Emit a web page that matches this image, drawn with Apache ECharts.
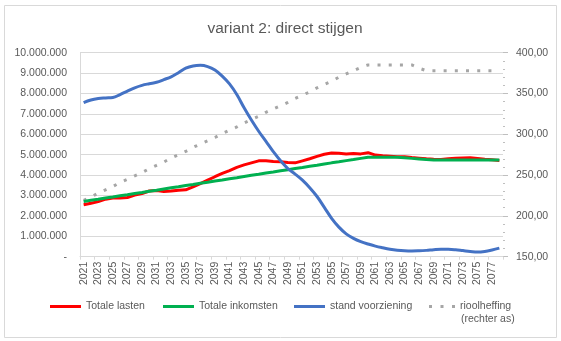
<!DOCTYPE html>
<html><head><meta charset="utf-8">
<script src="https://cdn.jsdelivr.net/npm/echarts@6/dist/echarts.min.js"></script>
<style>html,body{margin:0;padding:0;background:#fff}#c{width:561px;height:341px}</style>
</head><body><div id="c"></div>
<script>
const years = ['2021','2022','2023','2024','2025','2026','2027','2028','2029','2030','2031','2032','2033','2034','2035','2036','2037','2038','2039','2040','2041','2042','2043','2044','2045','2046','2047','2048','2049','2050','2051','2052','2053','2054','2055','2056','2057','2058','2059','2060','2061','2062','2063','2064','2065','2066','2067','2068','2069','2070','2071','2072','2073','2074','2075','2076','2077','2078'];
// values in millions (left axis)
const totaleLasten = [2.55,2.62,2.70,2.82,2.88,2.88,2.90,3.02,3.10,3.22,3.24,3.20,3.22,3.26,3.28,3.42,3.58,3.75,3.92,4.08,4.22,4.38,4.50,4.60,4.70,4.70,4.67,4.65,4.62,4.60,4.70,4.80,4.92,5.02,5.08,5.07,5.03,5.06,5.04,5.10,4.98,4.95,4.93,4.90,4.90,4.86,4.83,4.80,4.78,4.77,4.80,4.82,4.84,4.85,4.82,4.78,4.75,4.72];
const totaleInkomsten = [2.71,2.77,2.82,2.88,2.93,2.99,3.04,3.10,3.15,3.21,3.26,3.32,3.38,3.43,3.49,3.54,3.60,3.65,3.71,3.76,3.82,3.87,3.93,3.99,4.04,4.10,4.15,4.21,4.26,4.32,4.37,4.43,4.48,4.54,4.60,4.65,4.71,4.76,4.82,4.87,4.87,4.87,4.87,4.87,4.85,4.82,4.79,4.76,4.74,4.74,4.74,4.74,4.74,4.74,4.74,4.74,4.74,4.74];
const standVoorziening = [7.55,7.68,7.75,7.78,7.80,7.95,8.12,8.28,8.40,8.48,8.55,8.68,8.82,9.02,9.24,9.35,9.38,9.32,9.15,8.85,8.47,7.95,7.30,6.70,6.15,5.65,5.15,4.70,4.32,4.05,3.75,3.38,2.95,2.42,1.88,1.45,1.12,0.90,0.74,0.62,0.52,0.44,0.37,0.32,0.29,0.28,0.29,0.31,0.34,0.36,0.36,0.34,0.30,0.26,0.23,0.26,0.33,0.42];
// right axis
const rioolheffing = [219,223,228,232,236,241,245,249,253,258,262,266,271,275,279,284,288,292,296,301,305,309,314,318,322,327,331,335,339,344,348,352,357,361,365,370,374,378,382,385,385,385,385,385,385,385,381,378,378,378,378,378,378,378,378,378,378,378];

const txt = '#595959';
const font = 'Liberation Sans, Arial, sans-serif';
function fmtLeft(v){
  if (v === 0) return '-';
  const n = Math.round(v*1000000).toString();
  return n.replace(/\B(?=(\d{3})+(?!\d))/g, '.');
}
const chart = echarts.init(document.getElementById('c'), null, {renderer:'canvas'});
const lineIcon = 'path://M0,0L31,0L31,3L0,3Z';
const dotIcon = 'path://M0,0h3v3h-3z M11.5,0h3v3h-3z M23,0h3v3h-3z';
const legendBase = {top: 301, itemHeight: 3, itemGap: 0, padding: 0,
  textStyle:{color:txt, fontSize:10.5, fontFamily:font}, selectedMode:false};
chart.setOption({
  animation:false,
  textStyle:{fontFamily:font},
  title:{text:'variant 2: direct stijgen', left:280, top:16, textAlign:'center',
    textStyle:{color:txt, fontSize:15.5, fontWeight:'normal', fontFamily:font}},
  grid:{left:80, right:58, top:52.7, bottom:84.3, containLabel:false},
  legend:[
    Object.assign({left:50, itemWidth:31, data:[{name:'Totale lasten', icon:lineIcon}]}, legendBase),
    Object.assign({left:163, itemWidth:31, data:[{name:'Totale inkomsten', icon:lineIcon}]}, legendBase),
    Object.assign({left:294, itemWidth:31, data:[{name:'stand voorziening', icon:lineIcon}]}, legendBase),
    Object.assign({left:429, itemWidth:26, data:[{name:'rioolheffing', icon:dotIcon}]}, legendBase)
  ],
  graphic:[
    {type:'rect', shape:{x:4.5, y:5.5, width:552, height:332}, style:{fill:'none', stroke:'#d9d9d9', lineWidth:1}, silent:true},
    {type:'text', left:461, top:314, style:{text:'(rechter as)', fill:txt, fontSize:10.5, fontFamily:font}}
  ],
  xAxis:{type:'category', data:years, boundaryGap:true,
    axisLine:{lineStyle:{color:'#d9d9d9'}},
    axisTick:{show:true, length:3, lineStyle:{color:'#d9d9d9'}},
    axisLabel:{rotate:90, interval:1, color:txt, fontSize:10.5, fontFamily:font, margin:5}},
  yAxis:[
    {type:'value', min:0, max:10, interval:1,
      axisLine:{show:true, lineStyle:{color:'#d9d9d9'}},
      axisTick:{show:false},
      splitLine:{lineStyle:{color:'#d9d9d9'}},
      axisLabel:{formatter:fmtLeft, color:txt, fontSize:10.5, fontFamily:font, margin:13}},
    {type:'value', min:150, max:400, interval:50, position:'right',
      axisLine:{show:false},
      axisTick:{show:true, length:5, lineStyle:{color:'#bfbfbf'}},
      minorTick:{show:true, splitNumber:5, length:2, lineStyle:{color:'#bfbfbf'}},
      splitLine:{show:false},
      axisLabel:{formatter:v=>v.toFixed(2).replace('.',','), color:txt, fontSize:10.5, fontFamily:font, margin:13}}
  ],
  series:[
    {name:'Totale lasten', type:'line', data:totaleLasten, yAxisIndex:0, symbol:'none', z:3,
      lineStyle:{color:'#ff0000', width:3}, itemStyle:{color:'#ff0000'}},
    {name:'Totale inkomsten', type:'line', data:totaleInkomsten, yAxisIndex:0, symbol:'none', z:4,
      lineStyle:{color:'#00b050', width:3}, itemStyle:{color:'#00b050'}},
    {name:'stand voorziening', type:'line', data:standVoorziening, yAxisIndex:0, symbol:'none', smooth:0.4, z:5,
      lineStyle:{color:'#4472c4', width:3}, itemStyle:{color:'#4472c4'}},
    {name:'rioolheffing', type:'line', data:rioolheffing, yAxisIndex:1, symbol:'none', z:2,
      lineStyle:{color:'#a6a6a6', width:3, type:[3,8.2]}, itemStyle:{color:'#a6a6a6'}}
  ]
});
</script></body></html>
